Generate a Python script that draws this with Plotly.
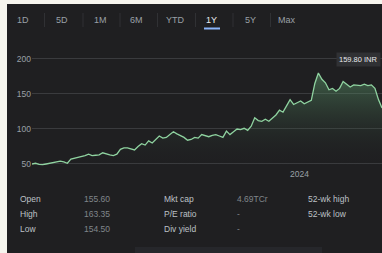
import plotly.graph_objects as go
import pandas as pd

# ---- data ----
tabs = ["1D", "5D", "1M", "6M", "YTD", "1Y", "5Y", "Max"]
active_tab = "1Y"
prices = [50, 51, 49.5, 49, 50, 51, 52, 53, 54, 53,
          51, 57, 58, 60, 61, 62, 64, 62, 62.5, 63,
          66, 64, 63, 62, 64, 71, 73, 73, 71, 70,
          75, 79, 77, 83, 80, 85, 90, 87, 88, 92,
          96, 93, 91, 88, 84, 85, 88, 87, 92, 90,
          89, 91, 92, 90, 88, 97, 92, 96, 100, 99,
          101, 98, 104, 116, 112, 111, 114, 111, 116, 120,
          127, 124, 133, 142, 135, 138, 140, 136, 138, 141,
          165, 180, 171, 166, 156, 158, 154, 158, 168, 164,
          160, 163, 163, 162, 164, 162, 163, 158, 142, 130]
start_date = "2023-03-28"
end_date = "2024-03-27"
y_ticks = [50, 100, 150, 200]
x_tick_dates = ["2024-01-01"]
x_tick_labels = ["2024"]
price_tag = "159.80 INR"
stats_labels_1 = ["Open", "High", "Low"]
stats_values_1 = ["155.60", "163.35", "154.50"]
stats_labels_2 = ["Mkt cap", "P/E ratio", "Div yield"]
stats_values_2 = ["4.69TCr", "-", "-"]
stats_labels_3 = ["52-wk high", "52-wk low"]

dates = pd.date_range(start_date, end_date, periods=len(prices))

W, H = 382, 253
ML, MR, MT, MB = 32, 0, 48, 86
PW = W - ML - MR
PH = H - MT - MB

def px(x):
    return (x - ML) / PW

def py(y):
    return (H - MB - y) / PH

BG = "#1f1f21"
EDGE = "#f6f5ee"
font = "Liberation Sans, Arial, sans-serif"

fig = go.Figure()
fig.add_trace(go.Scatter(
    x=dates, y=prices, mode="lines",
    line=dict(color="#8fd3a0", width=1.3),
    fill="tozeroy",
    fillgradient=dict(type="vertical", start=45, stop=185,
                      colorscale=[[0, "rgba(31,31,33,0)"], [1, "rgba(110,190,130,0.45)"]]),
    hoverinfo="skip",
))

shapes = []
# light border strips
shapes.append(dict(type="rect", xref="paper", yref="paper", x0=px(0), x1=px(7), y0=py(H), y1=py(0),
                   fillcolor=EDGE, line_width=0, layer="above"))
shapes.append(dict(type="rect", xref="paper", yref="paper", x0=px(0), x1=px(W), y0=py(4), y1=py(0),
                   fillcolor=EDGE, line_width=0, layer="above"))
# tab separators
tab_x = [23, 62, 100, 136, 175, 212, 250, 287]
for i in range(len(tab_x) - 1):
    sx = (tab_x[i] + tab_x[i + 1]) / 2 + 2
    shapes.append(dict(type="line", xref="paper", yref="paper", x0=px(sx), x1=px(sx),
                       y0=py(13), y1=py(27), line=dict(color="#303134", width=1)))
# underline for active tab
ai = tabs.index(active_tab)
shapes.append(dict(type="line", xref="paper", yref="paper", x0=px(tab_x[ai] - 8), x1=px(tab_x[ai] + 8),
                   y0=py(28.5), y1=py(28.5), line=dict(color="#8ab4f8", width=2)))
# bottom faint panel
shapes.append(dict(type="rect", xref="paper", yref="paper", x0=px(135), x1=px(322), y0=py(253), y1=py(247),
                   fillcolor="#26272b", line_width=0))

annotations = []
for t, x in zip(tabs, tab_x):
    annotations.append(dict(text=t, xref="paper", yref="paper", x=px(x), y=py(20), showarrow=False,
                            xanchor="center", yanchor="middle",
                            font=dict(family=font, size=9,
                                      color="#e8eaed" if t == active_tab else "#9aa0a6")))
annotations.append(dict(text=price_tag, xref="paper", yref="paper", x=px(381), y=py(59), showarrow=False,
                        xanchor="right", yanchor="middle", bgcolor="#303134",
                        borderpad=2, font=dict(family=font, size=7.5, color="#e8eaed")))
row_y = [199, 214, 229]
for lab, val, yy in zip(stats_labels_1, stats_values_1, row_y):
    annotations.append(dict(text=lab, xref="paper", yref="paper", x=px(18), y=py(yy), showarrow=False,
                            xanchor="left", yanchor="middle", font=dict(family=font, size=8.5, color="#bdc1c6")))
    annotations.append(dict(text=val, xref="paper", yref="paper", x=px(82), y=py(yy), showarrow=False,
                            xanchor="left", yanchor="middle", font=dict(family=font, size=8.5, color="#80868b")))
for lab, val, yy in zip(stats_labels_2, stats_values_2, row_y):
    annotations.append(dict(text=lab, xref="paper", yref="paper", x=px(162), y=py(yy), showarrow=False,
                            xanchor="left", yanchor="middle", font=dict(family=font, size=8.5, color="#bdc1c6")))
    annotations.append(dict(text=val, xref="paper", yref="paper", x=px(235), y=py(yy), showarrow=False,
                            xanchor="left", yanchor="middle", font=dict(family=font, size=8.5, color="#80868b")))
for lab, yy in zip(stats_labels_3, row_y):
    annotations.append(dict(text=lab, xref="paper", yref="paper", x=px(306), y=py(yy), showarrow=False,
                            xanchor="left", yanchor="middle", font=dict(family=font, size=8.5, color="#bdc1c6")))

fig.update_layout(
    width=W, height=H,
    margin=dict(l=ML, r=MR, t=MT, b=MB, pad=0),
    paper_bgcolor=BG, plot_bgcolor=BG,
    showlegend=False,
    shapes=shapes, annotations=annotations,
    xaxis=dict(range=[dates[0], dates[-1]], showgrid=False, zeroline=False, showline=False,
               tickvals=x_tick_dates, ticktext=x_tick_labels, ticks="", ticklen=0,
               tickfont=dict(family=font, size=8.5, color="#9aa0a6")),
    yaxis=dict(range=[45.7, 215.7], tickvals=y_ticks, showgrid=True, gridcolor="#3a3b3e",
               gridwidth=1, zeroline=False, showline=False, ticks="", ticklen=0,
               tickfont=dict(family=font, size=8.5, color="#9aa0a6")),
)

fig.write_html("out.html", config={"displayModeBar": False},
               post_script="document.body.style.margin='0';document.body.style.overflow='hidden';")
